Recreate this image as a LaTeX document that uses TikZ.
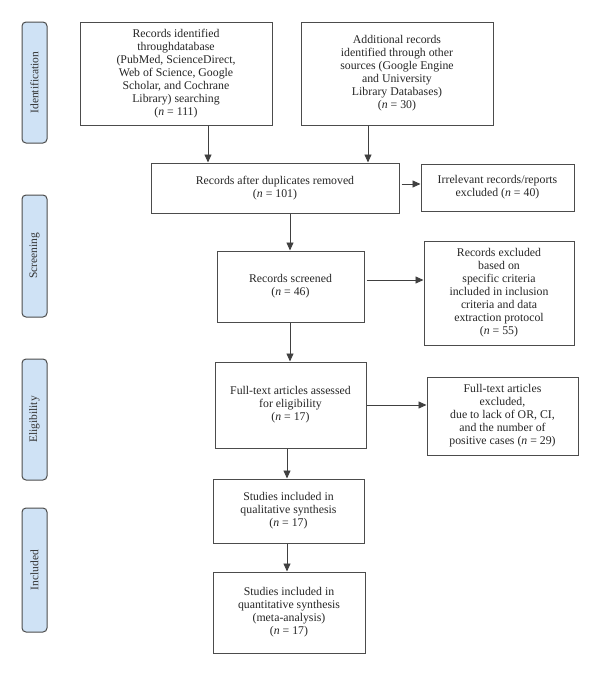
\documentclass[tikz,border=0pt]{standalone}
\usepackage{fontspec}
\setmainfont{Liberation Serif}
\usetikzlibrary{arrows.meta,calc}
\definecolor{labfill}{RGB}{207,226,245}
\newcommand{\nn}[1]{(\textit{n} = #1)}
\begin{document}
\begin{tikzpicture}[x=1pt,y=-1pt,
  box/.style={draw=black!70,line width=1pt,fill=white,inner sep=0pt,align=center,
    font=\fontsize{11.8}{13}\selectfont,text=black!85},
  lab/.style={draw=black!70,line width=1pt,fill=labfill,rounded corners=4pt,
    rotate=90,inner sep=0pt,minimum height=25pt,font=\fontsize{11.5}{12}\selectfont,text=black!80},
  arr/.style={line width=0.9pt,draw=black!75,-{Triangle[length=8pt,width=7pt]}}]
\useasboundingbox (0,0) rectangle (600,675);
% side labels
\node[lab,minimum width=121pt] (lid) at (34.5,82.5) {Identification};
\node[lab,minimum width=122pt] (lsc) at (34.5,256) {Screening};
\node[lab,minimum width=121pt] (lel) at (34.5,419.5) {Eligibility};
\node[lab,minimum width=124pt] (lin) at (34.5,570) {Included};
% boxes
\node[box,minimum width=192pt,minimum height=103pt] (a) at (176,73.5)
 {Records identified\\throughdatabase\\(PubMed, ScienceDirect,\\Web of Science, Google\\Scholar, and Cochrane\\Library) searching\\\nn{111}};
\node[box,minimum width=192pt,minimum height=103pt] (b) at (397,73.5)
 {Additional records\\identified through other\\sources (Google Engine\\and University\\Library Databases)\\\nn{30}};
\node[box,minimum width=248pt,minimum height=50pt] (c) at (275,188)
 {Records after duplicates removed\\\nn{101}};
\node[box,minimum width=153pt,minimum height=47pt] (d) at (497.5,187.5)
 {Irrelevant records/reports\\excluded \nn{40}};
\node[box,minimum width=147pt,minimum height=71pt] (s) at (290.5,286.5)
 {Records screened\\\nn{46}};
\node[box,minimum width=150pt,minimum height=104pt] (e) at (499,293)
 {Records excluded\\based on\\specific criteria\\included in inclusion\\criteria and data\\extraction protocol\\\nn{55}};
\node[box,minimum width=151pt,minimum height=86pt] (f) at (290.5,405)
 {Full-text articles assessed\\for eligibility\\\nn{17}};
\node[box,minimum width=151pt,minimum height=78pt] (g) at (502.5,416)
 {Full-text articles\\excluded,\\due to lack of OR, CI,\\and the number of\\positive cases \nn{29}};
\node[box,minimum width=151pt,minimum height=64pt] (q) at (288.5,511)
 {Studies included in\\qualitative synthesis\\\nn{17}};
\node[box,minimum width=152pt,minimum height=81pt] (t) at (289,612.5)
 {Studies included in\\quantitative synthesis\\(meta-analysis)\\\nn{17}};
% helper coordinates
\coordinate (xa) at (208,0);
\coordinate (xb) at (368,0);
\coordinate (xs) at (290,0);
\coordinate (xq) at (287,0);
\coordinate (ycd) at (0,184);
\coordinate (yse) at (0,280);
% connectors
\draw[arr] (a.south -| xa) -- (c.north -| xa);
\draw[arr] (b.south -| xb) -- (c.north -| xb);
\draw[arr] ($(c.east |- ycd)+(2,0)$) -- (d.west |- ycd);
\draw[arr] (c.south -| xs) -- (s.north -| xs);
\draw[arr] ($(s.east |- yse)+(2,0)$) -- (e.west |- yse);
\draw[arr] (s.south -| xs) -- (f.north -| xs);
\draw[arr] (f.east) -- (g.west |- f.east);
\draw[arr] (f.south -| xq) -- (q.north -| xq);
\draw[arr] (q.south -| xq) -- (t.north -| xq);
\end{tikzpicture}
\end{document}
